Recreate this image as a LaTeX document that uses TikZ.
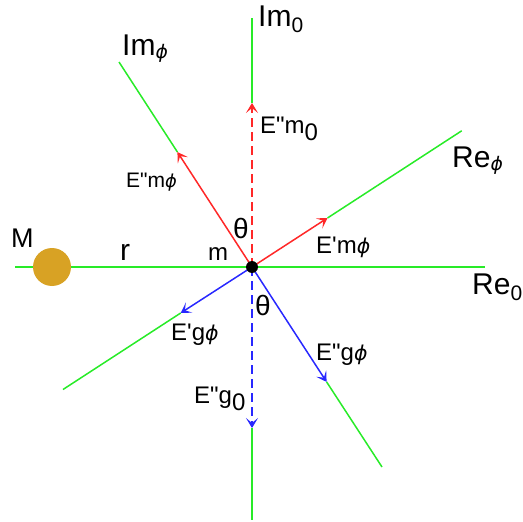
\documentclass[tikz,border=0pt]{standalone}
\usepackage{fontspec}
\setmainfont{Liberation Sans}[Ligatures=TeXOff]
\newfontfamily\phifont{DejaVu Sans}
\usetikzlibrary{arrows.meta}
\definecolor{axg}{RGB}{40,235,40}
\definecolor{vred}{RGB}{255,40,40}
\definecolor{vblue}{RGB}{40,40,255}
\definecolor{massc}{RGB}{216,162,36}
\newcommand\lo[2][0.3em]{\raisebox{-#1}{#2}}
\newcommand\ph{{\phifont\itshape\fontsize{0.85em}{1em}\selectfont ϕ}}
\newcommand\sq{\symbol{39}}
\newcommand\dq{\symbol{34}}
\begin{document}
\begin{tikzpicture}[x=1pt,y=-1pt,
  axis/.style={axg,line width=1.5pt},
  vec/.style={line width=1.5pt,-{Stealth[length=10pt,width=12pt,inset=5pt]}},
  dvec/.style={vec,line width=2pt,dash pattern=on 9pt off 5pt},
  big/.style={inner sep=0pt,anchor=base west,font=\fontsize{30}{36}\selectfont},
  lab/.style={inner sep=0pt,anchor=base west,font=\fontsize{24}{29}\selectfont}]
\useasboundingbox (0,0) rectangle (523,522);
% coordinates
\coordinate (O) at (252,267);
\coordinate (imTop) at (252,18);
\coordinate (emzTip) at (252,103);
\coordinate (gBot) at (252,520);
\coordinate (egzTip) at (252,428);
\coordinate (reL) at (15,267);
\coordinate (reR) at (485,267);
\coordinate (rephEnd) at (461.7,130.8);
\coordinate (empTip) at (327.5,218);
\coordinate (imphEnd) at (119,62);
\coordinate (emppTip) at (177.4,152);
\coordinate (llEnd) at (63,389.5);
\coordinate (egpTip) at (180.7,313);
\coordinate (lrEnd) at (382,467);
\coordinate (egppTip) at (326.6,381.9);
% axes
\draw[axis,line width=2pt] (reL) -- (reR);
\draw[axis] (imTop) -- (emzTip);
\draw[axis] (egzTip) -- (gBot);
\draw[axis] (empTip) -- (rephEnd);
\draw[axis] (emppTip) -- (imphEnd);
\draw[axis] (egpTip) -- (llEnd);
\draw[axis] (egppTip) -- (lrEnd);
% vectors
\draw[dvec,vred] (O) -- (emzTip);
\draw[vec,vred] (O) -- (empTip);
\draw[vec,vred] (O) -- (emppTip);
\draw[dvec,vblue] (O) -- (egzTip);
\draw[vec,vblue] (O) -- (egpTip);
\draw[vec,vblue] (O) -- (egppTip);
% bodies
\fill[black] (O) circle (6);
\fill[massc] (52,267) circle (19) coordinate (Mc);
% labels
\node[big] (lIm0) at (258,27) {Im\lo[0.2em]{\fontsize{21}{25}\selectfont 0}};
\node[big] (lImph) at (122,55) {Im\lo[0.1em]{\fontsize{22}{26}\selectfont\ph}};
\node[big] (lReph) at (452,167) {Re\lo[0.1em]{\fontsize{22}{26}\selectfont\ph}};
\node[big] (lRe0) at (472,294) {Re\lo[0.2em]{\fontsize{21}{25}\selectfont 0}};
\node[big,font=\fontsize{27}{32}\selectfont] (lM) at (11,247) {M};
\node[big] (lr) at (120,260) {r};
\node[lab] (lm) at (208,260) {m};
\node[lab,font=\fontsize{28}{32}\selectfont] (lth1) at (233,238) {θ};
\node[lab,font=\fontsize{28}{32}\selectfont] (lth2) at (255,315) {θ};
\node[lab] (lEmz) at (260,133) {E\dq m\lo[0.3em]{0}};
\node[lab,font=\fontsize{21}{25}\selectfont] (lEmpp) at (126,187) {E\dq m\ph};
\node[lab] (lEmp) at (316,253) {E\sq m\ph};
\node[lab] (lEgp) at (171,340) {E\sq g\ph};
\node[lab] (lEgpp) at (316,360) {E\dq g\ph};
\node[lab] (lEgz) at (194,403) {E\dq g\lo[0.3em]{0}};
\end{tikzpicture}
\end{document}
